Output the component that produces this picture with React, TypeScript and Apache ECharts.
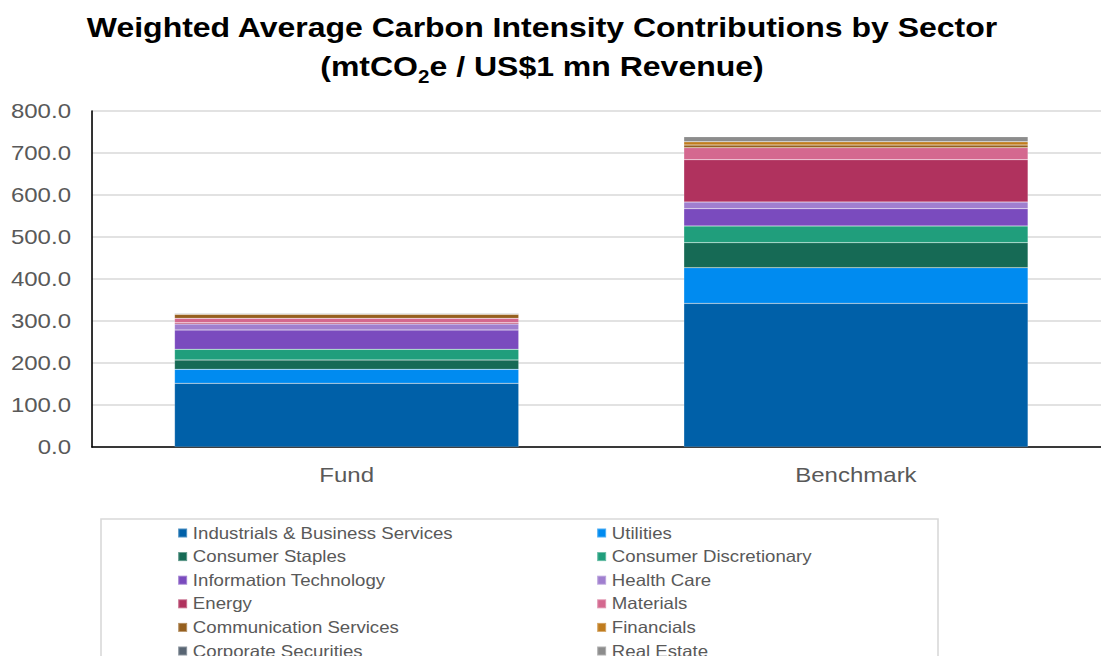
import React, { useEffect, useRef } from "react";
import * as echarts from "echarts";

const categories = ["Fund", "Benchmark"];
const sectors = [
  "Industrials & Business Services",
  "Utilities",
  "Consumer Staples",
  "Consumer Discretionary",
  "Information Technology",
  "Health Care",
  "Energy",
  "Materials",
  "Communication Services",
  "Financials",
  "Corporate Securities",
  "Real Estate",
];
const fundValues = [151.7, 33.3, 22.1, 25.5, 46.0, 14.3, 3.0, 10.4, 9.5, 0.5, 1.5, 0];
const benchmarkValues = [342.0, 85.0, 59.5, 39.8, 41.0, 16.0, 100.7, 28.6, 6.4, 7.9, 0, 11.9];
const colors = [
  "#0060a8",
  "#008bf0",
  "#166a55",
  "#209e7c",
  "#7a4bbe",
  "#a07fcf",
  "#b0325e",
  "#d4688f",
  "#955f1e",
  "#c07c1e",
  "#586573",
  "#8c8c8c",
];
const yTicks = { min: 0, max: 800, interval: 100 };

const FONT = "'Liberation Sans', Arial, sans-serif";
const SX = 1.143; // horizontal stretch of the reference rendering
const W = 1140 / SX; // drawing width (wider than the page, clipped by the outer div)

export default function App() {
  const ref = useRef<HTMLDivElement>(null);
  useEffect(() => {
    if (!ref.current) return;
    const chart = echarts.init(ref.current, undefined, { renderer: "svg" });
    const series = sectors.map((name, i) => ({
      name,
      type: "bar",
      stack: "total",
      barCategoryGap: "32.4%",
      itemStyle: { color: colors[i], borderColor: "rgba(255,255,255,0.3)", borderWidth: 0.5 },
      data: [fundValues[i], benchmarkValues[i]],
    }));
    const leftNames = sectors.filter((_, i) => i % 2 === 0);
    const rightNames = sectors.filter((_, i) => i % 2 === 1);
    const legendBase = {
      orient: "vertical",
      top: 524,
      height: 220,
      padding: 0,
      itemWidth: 9 / SX,
      itemHeight: 9,
      itemGap: 5.6,
      icon: "rect",
      textStyle: { fontFamily: FONT, fontSize: 16.3, color: "#595959", lineHeight: 18 },
    };
    chart.setOption({
      animation: false,
      textStyle: { fontFamily: FONT },
      grid: { left: 92 / SX, top: 111, bottom: 209, right: W - 1111 / SX, containLabel: false },
      legend: [
        { ...legendBase, left: 177 / SX, data: leftNames },
        { ...legendBase, left: 596 / SX, data: rightNames },
      ],
      xAxis: {
        type: "category",
        data: categories,
        axisLine: { show: true, lineStyle: { color: "#000", width: 1.5 } },
        axisTick: { show: false },
        axisLabel: { fontFamily: FONT, fontSize: 21, color: "#595959", margin: 18 },
      },
      yAxis: {
        type: "value",
        min: yTicks.min,
        max: yTicks.max,
        interval: yTicks.interval,
        axisLine: { show: true, lineStyle: { color: "#000", width: 1.4 } },
        axisTick: { show: false },
        splitLine: { lineStyle: { color: "#d9d9d9", width: 1.5 } },
        axisLabel: {
          fontFamily: FONT,
          fontSize: 21,
          color: "#595959",
          margin: (92 - 71) / SX,
          formatter: (v: number) => v.toFixed(1),
        },
      },
      graphic: [
        {
          type: "text",
          x: 542 / SX,
          y: 8,
          style: {
            text: "Weighted Average Carbon Intensity Contributions by Sector\n(mtCO{sub|2}e / US$1 mn Revenue)",
            textAlign: "center",
            textVerticalAlign: "top",
            fontFamily: FONT,
            fontSize: 28,
            fontWeight: "bold",
            lineHeight: 39,
            fill: "#000",
            rich: {
              sub: { fontFamily: FONT, fontSize: 18, fontWeight: "bold", fill: "#000", lineHeight: 20, verticalAlign: "bottom" },
            },
          },
        },
        {
          type: "rect",
          shape: { x: 101 / SX, y: 519, width: 837 / SX, height: 200 },
          style: { fill: "none", stroke: "#d9d9d9", lineWidth: 1.4 },
          silent: true,
        },
      ],
      series,
    });
    return () => chart.dispose();
  }, []);
  return (
    <div style={{ position: "fixed", left: 0, top: 0, width: 1101, height: 656, overflow: "hidden", background: "#fff" }}>
      <div
        ref={ref}
        style={{ width: W, height: 656, transform: `scaleX(${SX})`, transformOrigin: "0 0" }}
      />
    </div>
  );
}
